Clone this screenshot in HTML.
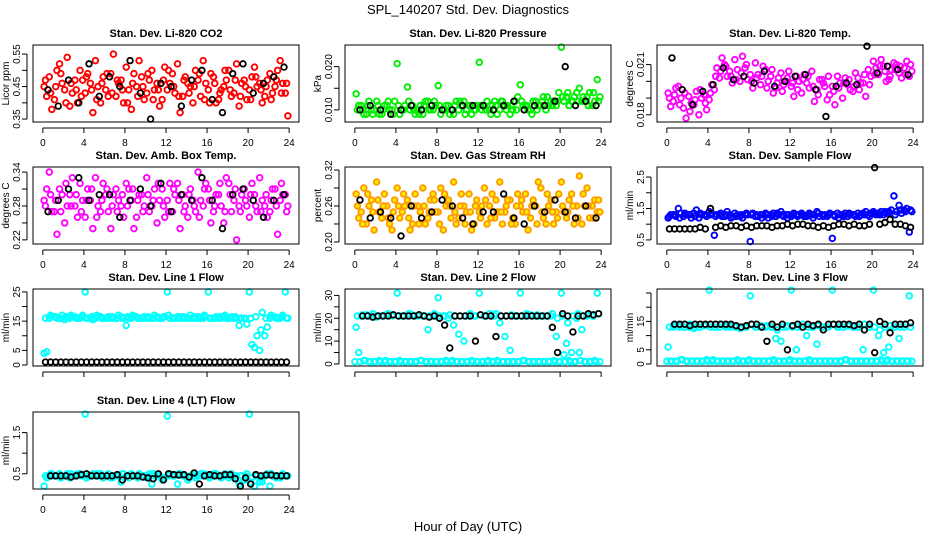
<!DOCTYPE html>
<html><head><meta charset="utf-8">
<style>
html,body{margin:0;padding:0;background:#fff;}
svg{display:block;font-family:"Liberation Sans",Arial,sans-serif;}
</style></head>
<body>
<svg id="chart" width="936" height="540" viewBox="0 0 936 540">
<text x="468" y="14" text-anchor="middle" font-size="13">SPL_140207  Std. Dev. Diagnostics</text>
<text x="468" y="531" text-anchor="middle" font-size="13">Hour of Day (UTC)</text>
</svg>
<script>
// ---- data (std dev values, half-hour bins) ----
const xTicks = [0,4,8,12,16,20,24];
const c1a = [0.45,0.48,0.41,0.52,0.44,0.39,0.47,0.50,0.43,0.46,0.53,0.40,0.44,0.49,0.42,0.47,0.51,0.38,0.45,0.48,0.43,0.50,0.46,0.41,0.44,0.49,0.52,0.42,0.46,0.40,0.47,0.53,0.44,0.48,0.41,0.45,0.50,0.43,0.39,0.47,0.44,0.51,0.46,0.42,0.49,0.45,0.53,0.43];
const c1b = [0.42,0.38,0.50,0.46,0.54,0.43,0.40,0.47,0.49,0.37,0.45,0.48,0.42,0.55,0.46,0.40,0.44,0.49,0.53,0.41,0.47,0.44,0.39,0.51,0.46,0.43,0.37,0.48,0.45,0.50,0.42,0.46,0.49,0.40,0.44,0.47,0.42,0.52,0.46,0.41,0.48,0.45,0.40,0.47,0.43,0.50,0.46,0.36];
const c1c = [0.47,0.43,0.45,0.49,0.40,0.46,0.44,0.42,0.48,0.44,0.41,0.46,0.49,0.43,0.47,0.44,0.40,0.46,0.42,0.45,0.49,0.41,0.44,0.47,0.50,0.45,0.42,0.47,0.43,0.45,0.49,0.41,0.40,0.46,0.43,0.50,0.44,0.47,0.42,0.45,0.41,0.48,0.44,0.45,0.41,0.47,0.43,0.46];
const k1 = [0.44,0.39,0.47,0.40,0.52,0.42,0.48,0.45,0.53,0.43,0.35,0.46,0.45,0.39,0.47,0.50,0.41,0.37,0.49,0.52,0.43,0.46,0.48,0.51];
const c2a = [0.0137,0.011,0.009,0.010,0.012,0.009,0.011,0.010,0.0207,0.010,0.0153,0.011,0.010,0.009,0.012,0.010,0.0156,0.010,0.011,0.009,0.010,0.012,0.011,0.010,0.021,0.011,0.010,0.012,0.010,0.011,0.009,0.012,0.0158,0.011,0.010,0.012,0.011,0.010,0.012,0.011,0.0245,0.013,0.012,0.014,0.012,0.013,0.011,0.017];
const c2b = [0.011,0.009,0.012,0.010,0.009,0.011,0.010,0.012,0.009,0.011,0.010,0.009,0.011,0.012,0.010,0.011,0.009,0.011,0.010,0.012,0.011,0.010,0.009,0.011,0.010,0.012,0.011,0.009,0.012,0.011,0.010,0.013,0.011,0.010,0.012,0.011,0.013,0.011,0.012,0.014,0.012,0.011,0.013,0.015,0.012,0.014,0.012,0.013];
const c2c = [0.010,0.010,0.011,0.009,0.011,0.010,0.012,0.009,0.011,0.010,0.012,0.010,0.009,0.011,0.010,0.012,0.011,0.010,0.009,0.011,0.012,0.009,0.011,0.010,0.011,0.010,0.009,0.011,0.012,0.010,0.011,0.010,0.012,0.011,0.009,0.010,0.012,0.013,0.011,0.012,0.013,0.014,0.012,0.012,0.013,0.011,0.014,0.012];
const k2 = [0.010,0.011,0.010,0.009,0.010,0.011,0.010,0.011,0.010,0.010,0.011,0.011,0.011,0.010,0.011,0.012,0.010,0.011,0.011,0.012,0.020,0.011,0.012,0.011];
const c3a = [0.0193,0.0188,0.0197,0.0184,0.0191,0.0186,0.0180,0.0192,0.0189,0.0195,0.0202,0.0210,0.0206,0.0213,0.0200,0.0208,0.0204,0.0211,0.0198,0.0207,0.0203,0.0196,0.0205,0.0200,0.0197,0.0203,0.0193,0.0199,0.0206,0.0195,0.0201,0.0189,0.0197,0.0203,0.0190,0.0198,0.0194,0.0202,0.0199,0.0207,0.0212,0.0204,0.0209,0.0201,0.0211,0.0205,0.0208,0.0203];
const c3b = [0.0185,0.0196,0.0190,0.0178,0.0187,0.0194,0.0190,0.0183,0.0198,0.0208,0.0214,0.0203,0.0199,0.0207,0.0215,0.0201,0.0196,0.0204,0.0209,0.0200,0.0193,0.0202,0.0198,0.0206,0.0191,0.0200,0.0204,0.0196,0.0188,0.0201,0.0197,0.0192,0.0186,0.0199,0.0202,0.0195,0.0205,0.0199,0.0191,0.0203,0.0208,0.0213,0.0200,0.0207,0.0210,0.0202,0.0212,0.0206];
const c3c = [0.0190,0.0192,0.0186,0.0193,0.0182,0.0189,0.0195,0.0187,0.0193,0.0203,0.0206,0.0209,0.0203,0.0201,0.0205,0.0210,0.0200,0.0202,0.0203,0.0196,0.0207,0.0199,0.0194,0.0202,0.0199,0.0195,0.0201,0.0203,0.0197,0.0192,0.0199,0.0203,0.0194,0.0196,0.0199,0.0201,0.0197,0.0195,0.0204,0.0198,0.0204,0.0209,0.0206,0.0203,0.0207,0.0209,0.0204,0.0210];
const k3 = [0.0214,0.0195,0.0186,0.0194,0.0198,0.0208,0.0201,0.0203,0.0199,0.0206,0.0197,0.0200,0.0203,0.0204,0.0195,0.0179,0.0197,0.0199,0.0198,0.0221,0.0205,0.0209,0.0207,0.0204];
const c4a = [0.29,0.34,0.27,0.31,0.25,0.30,0.28,0.32,0.26,0.29,0.33,0.27,0.30,0.24,0.31,0.28,0.32,0.29,0.26,0.30,0.33,0.28,0.25,0.31,0.29,0.27,0.32,0.30,0.26,0.29,0.34,0.28,0.31,0.27,0.30,0.25,0.32,0.29,0.28,0.31,0.26,0.30,0.33,0.28,0.27,0.31,0.29,0.30];
const c4b = [0.31,0.27,0.23,0.30,0.28,0.33,0.26,0.29,0.31,0.24,0.28,0.32,0.27,0.30,0.29,0.26,0.31,0.24,0.30,0.28,0.27,0.31,0.29,0.26,0.32,0.30,0.24,0.28,0.31,0.27,0.29,0.32,0.25,0.30,0.28,0.33,0.27,0.22,0.30,0.28,0.32,0.27,0.29,0.26,0.31,0.23,0.30,0.28];
const c4c = [0.28,0.30,0.29,0.27,0.32,0.28,0.30,0.27,0.29,0.31,0.26,0.29,0.31,0.28,0.27,0.30,0.28,0.31,0.29,0.27,0.30,0.29,0.32,0.28,0.27,0.31,0.29,0.27,0.30,0.28,0.26,0.31,0.29,0.28,0.32,0.27,0.30,0.31,0.27,0.29,0.30,0.28,0.27,0.30,0.29,0.28,0.32,0.27];
const k4 = [0.27,0.29,0.31,0.33,0.29,0.30,0.30,0.26,0.29,0.31,0.28,0.32,0.27,0.30,0.29,0.33,0.29,0.24,0.30,0.31,0.29,0.26,0.29,0.30];
const c5a = [0.28,0.25,0.23,0.27,0.30,0.24,0.26,0.22,0.29,0.25,0.27,0.23,0.26,0.29,0.24,0.28,0.25,0.22,0.27,0.30,0.24,0.26,0.28,0.23,0.25,0.29,0.26,0.24,0.30,0.25,0.27,0.23,0.26,0.28,0.24,0.26,0.29,0.23,0.27,0.25,0.30,0.24,0.28,0.26,0.23,0.29,0.26,0.25];
const c5b = [0.24,0.29,0.26,0.22,0.25,0.28,0.23,0.27,0.24,0.26,0.22,0.28,0.25,0.23,0.27,0.25,0.29,0.26,0.24,0.23,0.28,0.25,0.22,0.27,0.26,0.23,0.28,0.25,0.23,0.27,0.24,0.28,0.25,0.22,0.27,0.30,0.24,0.26,0.23,0.28,0.25,0.27,0.23,0.31,0.26,0.24,0.27,0.25];
const c5c = [0.26,0.23,0.28,0.25,0.27,0.26,0.24,0.25,0.26,0.28,0.24,0.26,0.23,0.26,0.25,0.27,0.23,0.28,0.26,0.25,0.26,0.23,0.25,0.26,0.24,0.27,0.24,0.27,0.25,0.26,0.23,0.26,0.27,0.25,0.26,0.23,0.25,0.28,0.25,0.24,0.26,0.25,0.26,0.24,0.28,0.26,0.24,0.27];
const k5 = [0.27,0.24,0.25,0.24,0.21,0.26,0.24,0.25,0.27,0.26,0.24,0.23,0.25,0.25,0.28,0.24,0.23,0.26,0.25,0.27,0.25,0.24,0.26,0.24];
const c6a = [1.2,1.3,1.5,1.25,1.3,1.35,1.2,1.3,1.4,0.65,1.3,1.25,1.3,1.35,1.25,1.3,0.45,1.25,1.3,1.35,1.3,1.25,1.4,1.3,1.25,1.3,1.35,1.25,1.3,1.4,1.3,1.25,0.55,1.35,1.3,1.25,1.3,1.35,1.35,1.3,1.4,1.35,1.3,1.4,1.9,1.6,1.45,0.75];
const c6b = [1.3,1.25,1.35,1.3,1.2,1.45,1.3,1.25,1.35,1.3,1.25,1.4,1.25,1.3,1.2,1.3,1.35,1.25,1.3,1.2,1.35,1.3,1.25,1.3,1.35,1.3,1.25,1.35,1.3,1.25,1.3,1.35,1.25,1.3,1.35,1.3,1.25,1.3,1.4,1.35,1.3,1.4,1.35,1.45,1.4,1.35,1.5,1.4];
const c6c = [1.25,1.3,1.2,1.35,1.3,1.25,1.35,1.3,1.3,1.25,1.35,1.3,1.2,1.25,1.3,1.35,1.3,1.3,1.2,1.3,1.25,1.35,1.3,1.2,1.3,1.25,1.3,1.3,1.2,1.35,1.25,1.3,1.3,1.2,1.25,1.35,1.3,1.25,1.3,1.25,1.35,1.3,1.4,1.35,1.3,1.45,1.4,1.45];
const k6 = [0.85,0.85,0.85,0.85,0.85,0.85,0.9,0.85,1.5,0.9,0.95,0.9,0.95,0.95,0.9,0.95,0.9,0.95,0.95,0.95,0.9,0.95,0.95,1.0,0.95,1.0,1.0,0.95,0.95,0.9,0.95,0.9,0.95,1.0,1.0,0.95,1.0,0.95,0.95,1.0,2.8,1.0,1.05,1.15,1.0,1.0,0.95,0.9];
const c7a = [4,16,16.5,16,15.5,16,16.5,16,25,16,16,16.5,16,16,16,16.5,13.5,16,16.5,16,16,16,16.5,16,25,16,16.5,16,16,16,16.5,16,25,16,16,16.5,16,16,13.5,16,25,6,5,10,16,16.5,16,25];
const c7b = [4.5,16.5,16,17,16,16.5,16,17,16,15.5,16.5,16,16.5,16,17,16,16,16.5,16,16.5,16,17,16,16.5,16,16,16.5,16,17,16,16,16.5,16,16.5,16,16,16.5,16,16,14,7,10,18,13,16.5,16,17,16];
const c7c = [16,17,16.5,16,16.5,17,16,16.5,16,16.5,17,16,16,16.5,16,16,16.5,17,16,16,16.5,16,16,16.5,17,16,16,16.5,16,16.5,16,17,16,16,16.5,17,16,16.5,16,16,16,16.5,12,16,17,16,16.5,16];
const k7 = [1,1,1,1,1,1,1,1,1,1,1,1,1,1,1,1,1,1,1,1,1,1,1,1,1,1,1,1,1,1,1,1,1,1,1,1,1,1,1,1,1,1,1,1,1,1,1,1];
const c8a = [16,21,21.5,21,20.5,21,21.5,21,31,21,21,21.5,21,21,15,21,29,21,20,17,13,10,21,21,31,21,22,21,18,12,6,21,31,21,21.5,21,21,21,21,12,31,9,5,20,15,21,21,31];
const c8b = [5,1.5,1,1,1.5,1,1,1,1.5,1,1,1,1.5,1,1,1,1,1.5,1,1,1,1,1.5,1,1,1,1,1.5,1,1,1,1,1.5,1,1,1,1,1,1.5,1,4,1.5,1,5,1,1,1.5,1];
const c8c = [21,21.5,21,22,21,21,22,21.5,21,21,22,21,21.5,21,21,22,21,21,21.5,21,21,21,22,21,21.5,21,21,22,21,21,21.5,21,21,22,21,21.5,21,21,22,20,21,18,21,22,21,21.5,21,22];
const c8d = [1,1,1.5,1,1,1,1.5,1,1,1,1,1,1,1.5,1,1,1,1,1,1.5,1,1,1,1,1,1,1.5,1,1,1,1,1,1,1.5,1,1,1,1,1,1,1,1,1,1,1.5,1,1,1];
const k8 = [null,21,21,20.5,21,21,21,21.5,21,21,21,21,21.5,21,20.5,21,20,17,7,21,21,21,21,10,21.5,21,21,12,21,21,21,21,21,21,21,21,21,21,16,5,22,21,14,21,21,22,21.5,22];
const c9a = [6,13,13.5,13,13,12.5,13,13.5,26,13,13,13.5,13,13,12.5,13,24,13,13.5,13,13,9,8,13,26,5,13,10,13,7,13,13,26,13,13,13.5,13,13,5,13,26,10,4,6,13,9,13,24];
const c9b = [1,1,1.5,1,1,1,1,1.5,1,1,1,1,1,1.5,1,1,1,1,1,1,1.5,1,1,1,1,1,1,1.5,1,1,1,1,1,1,1.5,1,1,1,1,1,1,1.5,1,1,1,1,1,1];
const c9c = [13,13.5,13,13,14,13,13,13.5,13,13,14,13,13.5,13,13,13,14,13,13,13.5,13,12,13,13.5,13,13,14,13,13,13.5,13,13,14,13,13,13.5,13,13,14,13,13,12,13,13.5,13,13,14,13];
const c9d = [1,1,1,1.5,1,1,1,1,1,1.5,1,1,1,1,1,1,1.5,1,1,1,1,1,1,1,1.5,1,1,1,1,1,1,1,1,1,1,1.5,1,1,1,1,1,1,1,1.5,1,1,1,1];
const k9 = [null,14,14,14,13.5,14,14,14,14,14,14,14,14,13.5,13,13.5,14,14,13,8,14,13,14,5,13.5,14,13,14,13.5,14,12,14,14,14,14,14,13.5,14,12,14,4,15,14,11,14,14,14,14.5];
const c10a = [0.2,0.45,0.45,0.5,0.45,0.4,0.45,0.5,1.95,0.45,0.45,0.5,0.45,0.4,0.45,0.3,0.45,0.5,0.45,0.45,0.4,0.25,0.45,0.35,1.9,0.45,0.25,0.45,0.35,0.5,0.45,0.45,0.45,0.5,0.45,0.45,0.4,0.45,0.25,0.35,1.95,0.2,0.3,0.45,0.2,0.45,0.4,0.45];
const c10b = [0.4,0.5,0.45,0.45,0.5,0.45,0.5,0.45,0.45,0.5,0.45,0.4,0.5,0.45,0.45,0.5,0.4,0.45,0.5,0.45,0.5,0.45,0.45,0.4,0.5,0.45,0.5,0.45,0.45,0.4,0.5,0.45,0.45,0.5,0.4,0.45,0.5,0.45,0.45,0.5,0.4,0.45,0.3,0.5,0.45,0.45,0.5,0.45];
const c10c = [0.45,0.5,0.45,0.4,0.45,0.5,0.45,0.45,0.4,0.45,0.5,0.45,0.45,0.4,0.45,0.5,0.45,0.45,0.4,0.45,0.45,0.5,0.45,0.4,0.45,0.45,0.5,0.45,0.4,0.45,0.45,0.5,0.4,0.45,0.45,0.5,0.45,0.4,0.45,0.45,0.3,0.45,0.35,0.45,0.5,0.4,0.45,0.45];
const k10 = [null,0.45,0.45,0.45,0.45,0.42,0.45,0.48,0.5,0.45,0.45,0.45,0.45,0.45,0.48,0.35,0.45,0.45,0.45,0.42,0.4,0.38,0.5,0.35,0.5,0.48,0.47,0.48,0.42,0.52,0.25,0.45,0.48,0.45,0.45,0.48,0.48,0.38,0.2,0.4,0.25,0.48,0.45,0.47,0.47,0.45,0.45,0.45];

// ---- layout / style config ----
const svg = document.getElementById('chart');
const NS = 'http://www.w3.org/2000/svg';
const colX = [33,345,657], rowY = [45,167,289,412], PW = 266, PH = 77;
const panels = [
 {title:'Stan. Dev. Li-820 CO2',ylab:'Licor ppm',col:0,row:0,ylim:[0.341,0.578],ticks:[0.35,0.40,0.45,0.50,0.55],labs:['0.35','','0.45','','0.55'],color:'#ff0000',s:[c1a,c1b,c1c],k:k1,xl:true},
 {title:'Stan. Dev. Li-820 Pressure',ylab:'kPa',col:1,row:0,ylim:[0.0072,0.0250],ticks:[0.010,0.015,0.020],labs:['0.010','','0.020'],color:'#00ee00',s:[c2a,c2b,c2c],k:k2,xl:true},
 {title:'Stan. Dev. Li-820 Temp.',ylab:'degrees C',col:2,row:0,ylim:[0.01757,0.02217],ticks:[0.018,0.019,0.020,0.021],labs:['0.018','','','0.021'],color:'#ff00ff',s:[c3a,c3b,c3c],k:k3,xl:true},
 {title:'Stan. Dev. Amb. Box Temp.',ylab:'degrees C',col:0,row:1,ylim:[0.2127,0.349],ticks:[0.22,0.25,0.28,0.31,0.34],labs:['0.22','','0.28','','0.34'],color:'#ff00ff',s:[c4a,c4b,c4c],k:k4,xl:true},
 {title:'Stan. Dev. Gas Stream RH',ylab:'percent',col:1,row:1,ylim:[0.1966,0.325],ticks:[0.20,0.23,0.26,0.29,0.32],labs:['0.20','','0.26','','0.32'],color:'#ff9900',fill:'#ffee00',s:[c5a,c5b,c5c],k:k5,xl:true},
 {title:'Stan. Dev. Sample Flow',ylab:'ml/min',col:2,row:1,ylim:[0.37,2.82],ticks:[0.5,1.0,1.5,2.0,2.5],labs:['0.5','','1.5','','2.5'],color:'#0000ff',s:[c6a,c6b,c6c],k:k6,xl:true},
 {title:'Stan. Dev. Line 1 Flow',ylab:'ml/min',col:0,row:2,ylim:[-0.35,26.0],ticks:[0,5,10,15,20,25],labs:['0','5','','15','','25'],color:'#00ffff',s:[c7a,c7b,c7c],k:k7,xl:false},
 {title:'Stan. Dev. Line 2 Flow',ylab:'ml/min',col:1,row:2,ylim:[-0.9,32.8],ticks:[0,5,10,15,20,25,30],labs:['0','','10','','20','','30'],color:'#00ffff',s:[c8a,c8b,c8c,c8d],k:k8,xl:false},
 {title:'Stan. Dev. Line 3 Flow',ylab:'ml/min',col:2,row:2,ylim:[-0.7,26.4],ticks:[0,5,10,15,20,25],labs:['0','5','','15','',''],color:'#00ffff',s:[c9a,c9b,c9c,c9d],k:k9,xl:false},
 {title:'Stan. Dev. Line 4 (LT) Flow',ylab:'ml/min',col:0,row:3,ylim:[0.13,2.0],ticks:[0.5,1.0,1.5],labs:['0.5','','1.5'],color:'#00ffff',s:[c10a,c10b,c10c],k:k10,xl:true}
];
const offsets = [0.25,0.75,0.5,0.0];

function el(tag, attrs, parent){
  const e = document.createElementNS(NS, tag);
  for (const k in attrs) e.setAttribute(k, attrs[k]);
  (parent||svg).appendChild(e);
  return e;
}

panels.forEach((p, pi) => {
  const L = colX[p.col], T = rowY[p.row], R = L + PW, B = T + PH;
  const xs = v => L + PW*0.04/1.08 + (v/24)*(PW/1.08);
  const ys = v => B - (v - p.ylim[0])/(p.ylim[1]-p.ylim[0])*PH;
  const g = el('g', {});
  
  

  const t = el('text', {x:(L+R)/2, y:T-8, 'text-anchor':'middle','font-size':'11','font-weight':'bold'}, g);
  t.textContent = p.title;
  
  

  const yl = el('text', {x:0,y:0,transform:`translate(${L-24},${(T+B)/2}) rotate(-90)`,'text-anchor':'middle','font-size':'10'}, g);
  yl.textContent = p.ylab;
  
  

  const pts = el('g', {fill: p.fill||'none', stroke:p.color, 'stroke-width':'1.9'}, g);
  
  
  p.s.forEach((arr, si) => {
    const off = offsets[si];
    arr.forEach((v, i) => {
      if (v === null) return;
      const c = el('circle', {cx: xs((i+off)*24/arr.length), cy: ys(v), r: 2.8}, pts);
      
      
    });
  });
  const kp = el('g', {fill:'none', stroke:'#000', 'stroke-width':'1.8'}, g);
  
  
  p.k.forEach((v, i) => {
    if (v === null) return;
    const c = el('circle', {cx: xs((i+0.5)*24/p.k.length), cy: ys(v), r: 2.8}, kp);
    
    
  });

  const fr = el('rect', {x:L, y:T, width:PW, height:PH, fill:'none', stroke:'#000', 'stroke-width':'1'}, g);
  
  

  const xa = el('g', {stroke:'#000','stroke-width':'1'}, g);
  
  
  el('line', {x1:xs(0), x2:xs(24), y1:B+6, y2:B+6}, xa);
  xTicks.forEach(v => {
    el('line', {x1:xs(v), x2:xs(v), y1:B+6, y2:B+11}, xa);
    if (p.xl) {
      const tl = el('text', {x:xs(v), y:B+24, 'text-anchor':'middle','font-size':'10', stroke:'none', fill:'#000'}, xa);
      tl.textContent = v;
      
      
    }
  });

  const ya = el('g', {stroke:'#000','stroke-width':'1'}, g);
  
  
  el('line', {x1:L-6, x2:L-6, y1:ys(p.ticks[0]), y2:ys(p.ticks[p.ticks.length-1])}, ya);
  p.ticks.forEach((v, i) => {
    el('line', {x1:L-11, x2:L-6, y1:ys(v), y2:ys(v)}, ya);
    if (p.labs[i]) {
      const tl = el('text', {x:0, y:0, transform:`translate(${L-13},${ys(v)}) rotate(-90)`, 'text-anchor':'middle','font-size':'10', stroke:'none', fill:'#000'}, ya);
      tl.textContent = p.labs[i];
      
      
    }
  });
});
</script>
</body></html>
